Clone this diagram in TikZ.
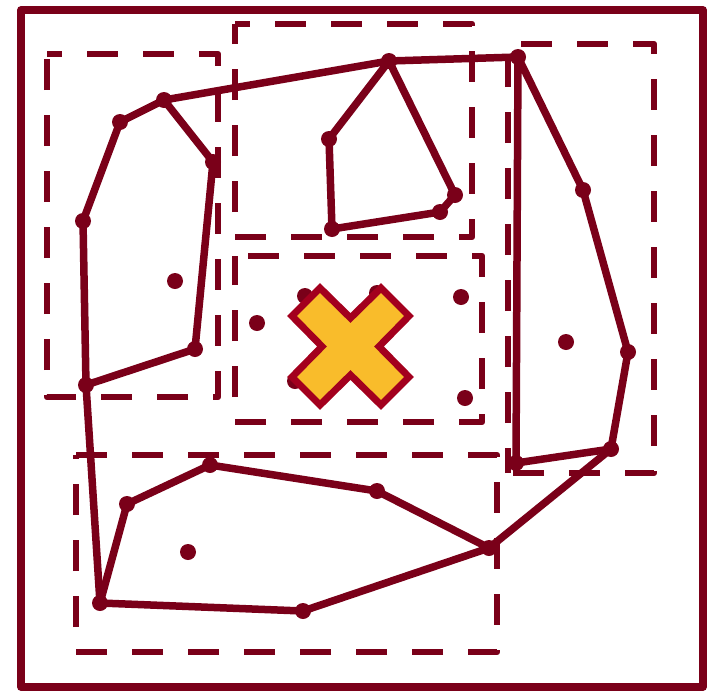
\documentclass[tikz,border=0pt]{standalone}
\usepackage{tikz}
\definecolor{maroon}{HTML}{7A0019}
\definecolor{gold}{HTML}{F9BC2B}
\definecolor{crossred}{HTML}{A3001E}

\begin{document}
\begin{tikzpicture}[x=1pt,y=-1pt,
    frame/.style={draw=maroon, line width=7.5pt, line join=round},
    region/.style={draw=maroon, line width=6.5pt, line join=round, dash pattern=on 31pt off 25pt},
    hull/.style={draw=maroon, line width=7.5pt, line join=round, line cap=round}]
  \useasboundingbox (0,0) rectangle (715,691);
  \draw[frame] (21,10) rectangle (703,687);

  % dashed regions
  \draw[region, dash phase=16pt] (47,54) -- (218,54) -- (218,397) -- (47,397) -- cycle;
  \draw[region, dash phase=16pt] (235,24) -- (472,24) -- (472,237) -- (235,237) -- cycle;
  \draw[region, dash phase=43pt] (235,256) -- (482,256) -- (482,422) -- (235,422) -- cycle;
  \draw[region, dash phase=6pt] (508,473) -- (508,44) -- (654,44) -- (654,473) -- cycle;
  \draw[region] (76,455) -- (497,455) -- (497,652) -- (76,652) -- cycle;

  % cluster points
  \coordinate (l1) at (164,100);
  \coordinate (l2) at (120,122);
  \coordinate (l3) at (83,221);
  \coordinate (l4) at (86,385);
  \coordinate (l5) at (195,349);
  \coordinate (l6) at (213,162);
  \coordinate (t1) at (389,61);
  \coordinate (t2) at (329,139);
  \coordinate (t3) at (332,229);
  \coordinate (t4) at (440,212);
  \coordinate (t5) at (455,195);
  \coordinate (r1) at (518,57);
  \coordinate (r2) at (583,190);
  \coordinate (r3) at (628,352);
  \coordinate (r4) at (611,449);
  \coordinate (r5) at (516,463);
  \coordinate (b1) at (489,548);
  \coordinate (b2) at (377,491);
  \coordinate (b3) at (210,465);
  \coordinate (b4) at (127,504);
  \coordinate (b5) at (100,603);
  \coordinate (b6) at (303,611);

  \draw[hull] (l1) -- (l2) -- (l3) -- (l4) -- (l5) -- (l6) -- cycle;
  \draw[hull] (t1) -- (t2) -- (t3) -- (t4) -- (t5) -- cycle;
  \draw[hull] (r1) -- (r2) -- (r3) -- (r4) -- (r5) -- cycle;
  \draw[hull] (b1) -- (b2) -- (b3) -- (b4) -- (b5) -- (b6) -- cycle;
  \draw[hull] (l1) -- (t1) -- (r1);
  \draw[hull] (r4) -- (b1);
  \draw[hull] (l4) -- (b5);

  \foreach \p in {l1,l2,l3,l4,l5,l6,t1,t2,t3,t4,t5,r1,r2,r3,r4,r5,b1,b2,b3,b4,b5,b6}
    \fill[maroon] (\p) circle (8pt);
  \foreach \p in {(175,281),(566,342),(188,552),(257,323),(305,296),(377,293),(461,297),(465,398),(295,381)}
    \fill[maroon] \p circle (8pt);

  % cross
  \filldraw[fill=gold, draw=crossred, line width=7pt, shift={(350.5,346.5)}]
    (0,-28.5) -- (30.5,-58.5) -- (58.5,-30.5) -- (28.5,0) -- (58.5,30.5) -- (30.5,58.5)
    -- (0,28.5) -- (-30.5,58.5) -- (-58.5,30.5) -- (-28.5,0) -- (-58.5,-30.5) -- (-30.5,-58.5) -- cycle;
\end{tikzpicture}
\end{document}
